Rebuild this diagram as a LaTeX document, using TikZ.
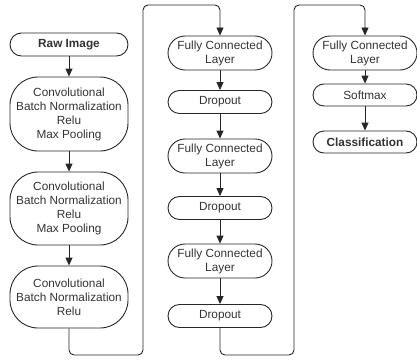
\documentclass[tikz,border=0pt]{standalone}
\usepackage{fontspec}
\setmainfont{Liberation Sans}
\usetikzlibrary{arrows.meta}

\begin{document}
\begin{tikzpicture}[x=1pt, y=-1pt,
		layer/.style={draw=black!85, line width=0.9pt, align=center, inner sep=0pt,
			text=black!80, font=\fontsize{11.8}{14}\selectfont},
		convbox/.style={layer, minimum width=118pt, rounded corners=28pt},
		fcbox/.style={layer, minimum width=104pt, minimum height=34pt, rounded corners=17pt},
		pillbox/.style={layer, minimum width=104pt, minimum height=23pt, rounded corners=11.5pt},
		flow/.style={draw=black!85, line width=0.9pt, -{Triangle[length=8pt, width=7pt]}}]
			\useasboundingbox (0,0) rectangle (417,361);

			% First column
			\node[convbox, minimum height=23pt, rounded corners=11.5pt, font=\fontsize{11.8}{14}\selectfont\bfseries] (raw) at (69,44.5) {Raw Image};
			\node[convbox, minimum height=74pt] (conv1) at (69,114) {Convolutional\\Batch Normalization\\Relu\\Max Pooling};
			\node[convbox, minimum height=73pt] (conv2) at (69,208.5) {Convolutional\\Batch Normalization\\Relu\\Max Pooling};
			\node[convbox, minimum height=62pt] (conv3) at (69,297) {Convolutional\\Batch Normalization\\Relu};

			% Second column
			\node[fcbox] (fc1) at (220,53) {Fully Connected\\Layer};
			\node[pillbox] (drop1) at (220,102) {Dropout};
			\node[fcbox] (fc2) at (220,156) {Fully Connected\\Layer};
			\node[pillbox] (drop2) at (220,208) {Dropout};
			\node[fcbox] (fc3) at (220,261) {Fully Connected\\Layer};
			\node[pillbox] (drop3) at (220,316) {Dropout};

			% Third column
			\node[fcbox] (fc4) at (365,53) {Fully Connected\\Layer};
			\node[pillbox, minimum height=22pt, rounded corners=11pt] (soft) at (365,95) {Softmax};
			\node[pillbox, minimum height=22pt, rounded corners=11pt, font=\fontsize{11.8}{14}\selectfont\bfseries] (cls) at (365,142) {Classification};

			% Turning points of the long connectors
			\coordinate (bendA1) at (143,355);
			\coordinate (bendA2) at (143,5);
			\coordinate (bendB1) at (294,355);
			\coordinate (bendB2) at (294,5);

			% Edges
			\draw[flow] (raw) -- (conv1);
			\draw[flow] (conv1) -- (conv2);
			\draw[flow] (conv2) -- (conv3);
			\draw[flow, rounded corners=5pt] (conv3.south) |- (bendA1) -- (bendA2) -| (fc1.north);
			\draw[flow] (fc1) -- (drop1);
			\draw[flow] (drop1) -- (fc2);
			\draw[flow] (fc2) -- (drop2);
			\draw[flow] (drop2) -- (fc3);
			\draw[flow] (fc3) -- (drop3);
			\draw[flow, rounded corners=5pt] (drop3.south) |- (bendB1) -- (bendB2) -| (fc4.north);
			\draw[flow] (fc4) -- (soft);
			\draw[flow] (soft) -- (cls);
		\end{tikzpicture}
\end{document}
